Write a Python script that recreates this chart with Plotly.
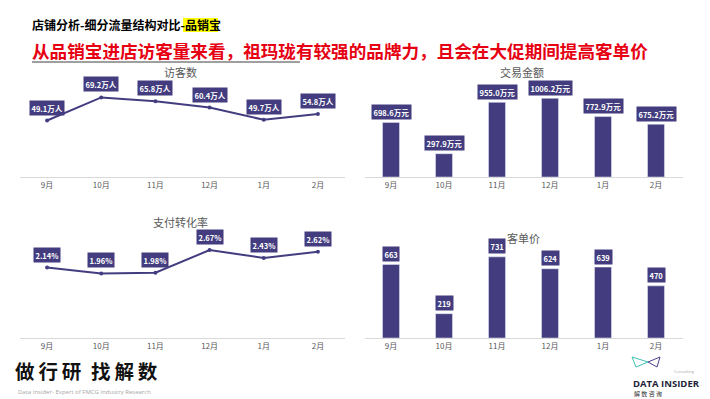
import plotly.graph_objects as go

W, H = 710, 399
months = ["9月", "10月", "11月", "12月", "1月", "2月"]
visitors = [49.1, 69.2, 65.8, 60.4, 49.7, 54.8]          # 万人
sales = [698.6, 297.9, 955.0, 1006.2, 772.9, 675.2]      # 万元
conv = [2.14, 1.96, 1.98, 2.67, 2.43, 2.62]              # %
aov = [663, 219, 731, 624, 639, 470]                     # 元

visitor_labels = [f"{v:.1f}万人" for v in visitors]
sales_labels = [f"{v:.1f}万元" for v in sales]
conv_labels = [f"{v:.2f}%" for v in conv]
aov_labels = [f"{v}" for v in aov]

PURPLE = "#433d80"
GRAY = "#595959"
FONT = "Noto Sans CJK SC"


def X(px):
    return px / W


def Y(py):
    return 1 - py / H


fig = go.Figure()

fig.add_trace(go.Scatter(x=months, y=visitors, mode="lines+markers",
                         line=dict(color=PURPLE, width=2), marker=dict(size=4, color=PURPLE),
                         xaxis="x", yaxis="y", hoverinfo="skip"))
fig.add_trace(go.Bar(x=months, y=sales, marker_color=PURPLE, width=0.32,
                     xaxis="x2", yaxis="y2", hoverinfo="skip"))
fig.add_trace(go.Scatter(x=months, y=conv, mode="lines+markers",
                         line=dict(color=PURPLE, width=2), marker=dict(size=4, color=PURPLE),
                         xaxis="x3", yaxis="y3", hoverinfo="skip"))
fig.add_trace(go.Bar(x=months, y=aov, marker_color=PURPLE, width=0.32,
                     xaxis="x4", yaxis="y4", hoverinfo="skip"))

xcommon = dict(showline=True, linecolor="#d9d9d9", linewidth=1, showgrid=False,
               zeroline=False, ticks="", tickfont=dict(size=8, color=GRAY, family=FONT),
               fixedrange=True, range=[-0.5, len(months) - 0.5])
ycommon = dict(visible=False, showgrid=False, zeroline=False, fixedrange=True)

layout = dict(
    width=W, height=H, margin=dict(l=0, r=0, t=0, b=0),
    paper_bgcolor="white", plot_bgcolor="white", showlegend=False,
    font=dict(family=FONT),
    xaxis=dict(domain=[X(20), X(345)], anchor="y", **xcommon),
    yaxis=dict(domain=[Y(177), Y(72)], range=[0, 91.3], anchor="x", **ycommon),
    xaxis2=dict(domain=[X(364.5), X(682.5)], anchor="y2", **xcommon),
    yaxis2=dict(domain=[Y(177), Y(72)], range=[0, 1343], anchor="x2", **ycommon),
    xaxis3=dict(domain=[X(20), X(345)], anchor="y3", **xcommon),
    yaxis3=dict(domain=[Y(338), Y(228)], range=[0, 3.34], anchor="x3", **ycommon),
    xaxis4=dict(domain=[X(364.5), X(682.5)], anchor="y4", **xcommon),
    yaxis4=dict(domain=[Y(338), Y(240)], range=[0, 883], anchor="x4", **ycommon),
)
fig.update_layout(**layout)

ann = []
lab_font = dict(size=7.5, color="white", family=FONT)


def labels(xref, yref, vals, texts, shift):
    for m, v, t in zip(months, vals, texts):
        ann.append(dict(x=m, y=v, xref=xref, yref=yref, text=f"<b>{t}</b>",
                        showarrow=False, yanchor="bottom", yshift=shift,
                        bgcolor=PURPLE, borderpad=1.5, font=lab_font))


labels("x", "y", visitors, visitor_labels, 5)
labels("x2", "y2", sales, sales_labels, 2.5)
labels("x3", "y3", conv, conv_labels, 5)
labels("x4", "y4", aov, aov_labels, 2.5)

# chart titles
for txt, px, py in [("访客数", 180, 72), ("交易金额", 522, 72), ("支付转化率", 180, 222), ("客单价", 523, 238)]:
    ann.append(dict(x=X(px), y=Y(py), xref="paper", yref="paper", text=txt, showarrow=False,
                    xanchor="center", yanchor="middle", font=dict(size=11, color=GRAY, family=FONT)))


def left_text(txt, px, py, size, color, family=FONT):
    ann.append(dict(x=X(px), y=Y(py), xref="paper", yref="paper", text=txt, showarrow=False,
                    xanchor="left", yanchor="middle", align="left",
                    font=dict(size=size, color=color, family=family)))


# header
left_text("<b>店铺分析-细分流量结构对比-品销宝</b>", 30, 25, 12, "black")
left_text("<b>从品销宝进店访客量来看，祖玛珑有较强的品牌力，且会在大促期间提高客单价</b>",
          30, 50, 17.6, "#e60012")

# footer
left_text("<b>做\u2009行\u2009研\u2002找\u2009解\u2009数</b>", 13, 370, 19.5, "#111111")
left_text("Data Insider- Expert of FMCG Industry Research", 16, 392, 6, "#a6a6a6", "Open Sans")
left_text("<b>DATA INSIDER</b>", 631, 383, 9.5, "#1f1f3a", "Open Sans")
left_text("解 数 咨 询", 632, 393, 6, "#333333")
ann.append(dict(x=X(697), y=Y(371), xref="paper", yref="paper",
                text="Consulting", showarrow=False,
                xanchor="right", yanchor="middle", font=dict(size=4, color="#aaaaaa", family="Open Sans")))

fig.update_layout(annotations=ann)

shapes = [
    dict(type="rect", xref="paper", yref="paper", x0=X(183), x1=X(218), y0=Y(32), y1=Y(18),
         fillcolor="#ffff00", line=dict(width=0), layer="below"),
    dict(type="line", xref="paper", yref="paper", x0=X(32), x1=X(300), y0=Y(62), y1=Y(62),
         line=dict(color="#7f7f7f", width=1.5)),
    dict(type="path", xref="paper", yref="paper",
         path=f"M {X(632)} {Y(357)} L {X(636)} {Y(367)} L {X(648)} {Y(362)} Z",
         line=dict(color="#3dbfb0", width=1)),
    dict(type="path", xref="paper", yref="paper",
         path=f"M {X(648)} {Y(362)} L {X(660)} {Y(357)} L {X(657)} {Y(367)} Z",
         line=dict(color="#4b3f8f", width=1)),
]
fig.update_layout(shapes=shapes)

fig.write_html("out.html", config={"displayModeBar": False},
               post_script="document.body.style.margin='0';document.body.style.overflow='hidden';")
